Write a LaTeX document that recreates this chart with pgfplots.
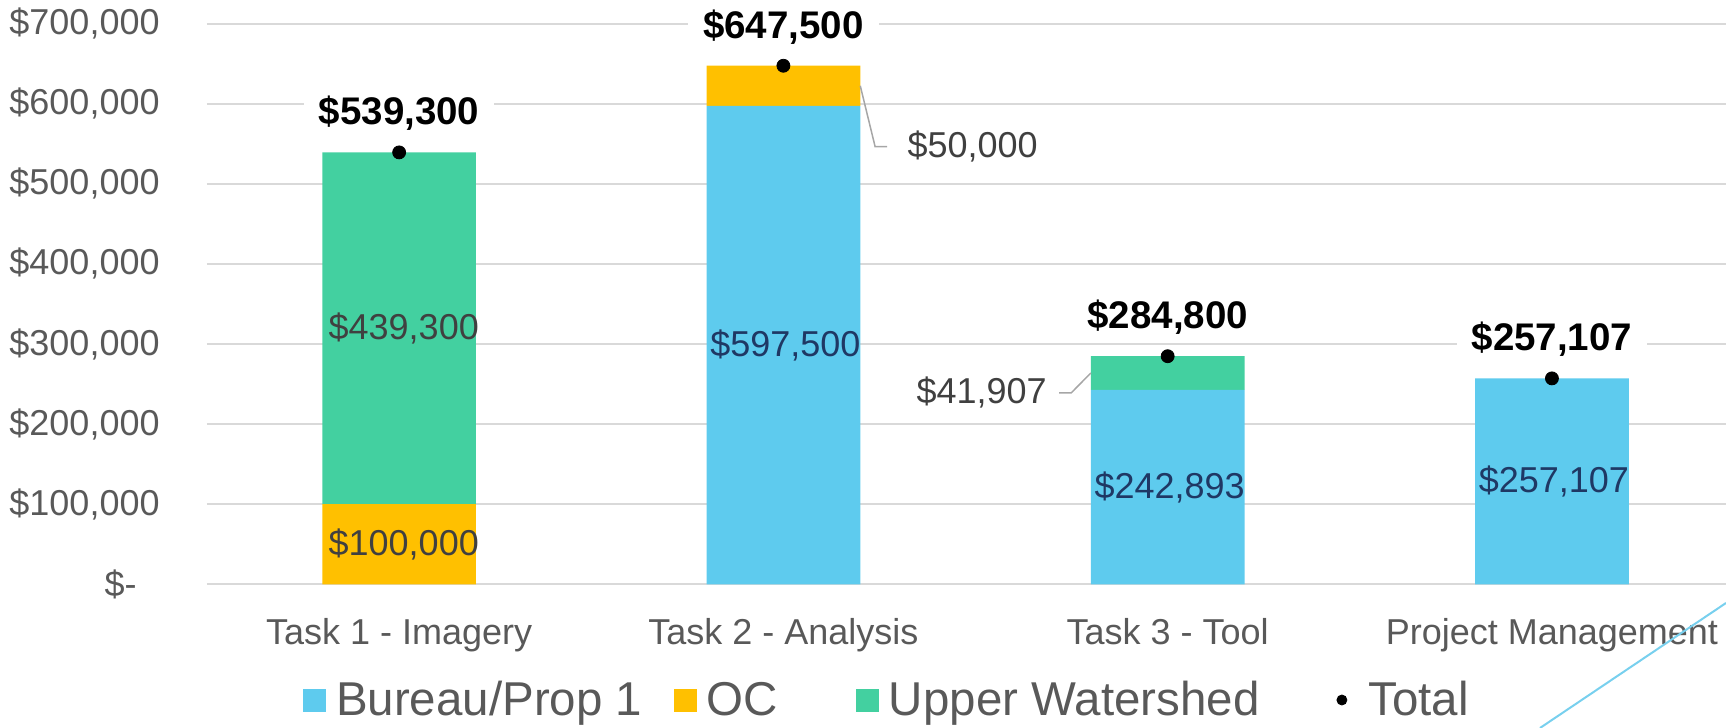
\documentclass[border=0pt]{standalone}
\usepackage{pgfplots}
\pgfplotsset{compat=1.18}
\usepackage{fontspec}
\setmainfont{Liberation Sans}
\definecolor{cBureau}{RGB}{94,203,238}
\definecolor{cOC}{RGB}{255,192,0}
\definecolor{cUW}{RGB}{67,208,160}
\definecolor{tgray}{RGB}{89,89,89}
\definecolor{lgray}{RGB}{64,64,64}
\definecolor{navy}{RGB}{31,56,100}
\definecolor{gridc}{RGB}{217,217,217}
\definecolor{leader}{RGB}{166,166,166}
\definecolor{deco}{RGB}{120,208,238}
\tikzset{vlab/.style={inner sep=0pt, font=\fontsize{18}{21}\selectfont}}
\pgfplotsset{
  common/.style={
    at={(103.5pt,71.85pt)}, anchor=south west,
    scale only axis, width=759.5pt, height=280.3pt,
    xmin=-0.5, xmax=3.453, ymin=0, ymax=700000, clip=false,
  }
}
\begin{document}
\begin{tikzpicture}
\begin{axis}[
  common,
  ybar stacked, bar width=0.4,
  xtick={0,1,2,3},
  xticklabels={Task 1 - Imagery, Task 2 - Analysis, Task 3 - Tool, Project Management},
  ytick={0,100000,200000,300000,400000,500000,600000,700000},
  yticklabels={{\$-\kern11.5pt},{\$100,000},{\$200,000},{\$300,000},{\$400,000},{\$500,000},{\$600,000},{\$700,000}},
  scaled y ticks=false,
  ymajorgrids, grid style={gridc, line width=1pt},
  axis line style={draw=none},
  major tick length=0pt, tick style={draw=none},
  tick label style={font=\fontsize{18}{21}\selectfont, text=tgray},
  yticklabel style={anchor=east, inner sep=0pt, xshift=-23.5pt},
  xticklabel style={anchor=base, inner sep=0pt, yshift=-30pt},
  legend columns=4, legend cell align=left,
  legend style={at={(0.0632,-0.2064)}, anchor=west, draw=none, fill=none,
    inner sep=0pt, outer sep=0pt, /tikz/column sep=0pt,
    nodes={inner sep=0pt, text=tgray, font=\fontsize{23.75}{28}\selectfont}},
]
\addplot[fill=cBureau, draw=none,
  legend image code/.code={\fill[cBureau] (0pt,-5.75pt) rectangle (11.5pt,5.75pt);}]
  coordinates {(0,0) (1,597500) (2,242893) (3,257107)};
\addplot[fill=cOC, draw=none,
  legend image code/.code={\fill[cOC] (0pt,-5.75pt) rectangle (11.5pt,5.75pt);}]
  coordinates {(0,100000) (1,50000) (2,0) (3,0)};
\addplot[fill=cUW, draw=none,
  legend image code/.code={\fill[cUW] (0pt,-5.75pt) rectangle (11.5pt,5.75pt);}]
  coordinates {(0,439300) (1,0) (2,41907) (3,0)};
\addlegendimage{legend image code/.code={\path (0pt,0pt); \fill[black] (9.25pt,0pt) circle (2.5pt);}}
\legend{{\hspace{5pt}\makebox[169pt][l]{Bureau/Prop 1}},{\hspace{5pt}\makebox[74.5pt][l]{OC}},{\hspace{5pt}\makebox[217pt][l]{Upper Watershed}},{\hspace{10.5pt}Total}}
\end{axis}
\begin{axis}[common, hide axis]
\addplot[only marks, mark=*, mark size=3.25pt, black,
  point meta=y,
  nodes near coords={\$\pgfmathprintnumber[fixed, precision=0, 1000 sep={,}, assume math mode=true]{\pgfplotspointmeta}},
  every node near coord/.append style={font=\bfseries\fontsize{19.25}{23}\selectfont, text=black, fill=white, inner xsep=7.5pt, inner ysep=3pt, anchor=center, yshift=19.5pt}]
  coordinates {(0,539300) (1,647500) (2,284800) (3,257107)};
\node[vlab, text=lgray] at (axis cs:0.012,50000) {\$100,000};
\node[vlab, text=lgray] at (axis cs:0.012,319650) {\$439,300};
\node[vlab, text=navy] at (axis cs:1.005,298750) {\$597,500};
\node[vlab, text=navy] at (axis cs:2.005,121446.5) {\$242,893};
\node[vlab, text=navy] at (axis cs:3.005,128553.5) {\$257,107};
\draw[leader, line width=0.75pt] (axis cs:1.2,622500) -- (axis cs:1.2387,546400) -- (axis cs:1.2699,546400);
\node[vlab, anchor=west, text=lgray] at (axis cs:1.322,546400) {\$50,000};
\draw[leader, line width=0.75pt] (axis cs:1.8,263850) -- (axis cs:1.7488,238900) -- (axis cs:1.7176,238900);
\node[vlab, anchor=east, text=lgray] at (axis cs:1.6864,238900) {\$41,907};
\end{axis}
\draw[deco, line width=1pt] (770pt,0pt) -- (863pt,62.5pt);
\pgfresetboundingbox
\useasboundingbox (0pt,0pt) rectangle (863pt,364pt);
\end{tikzpicture}
\end{document}
